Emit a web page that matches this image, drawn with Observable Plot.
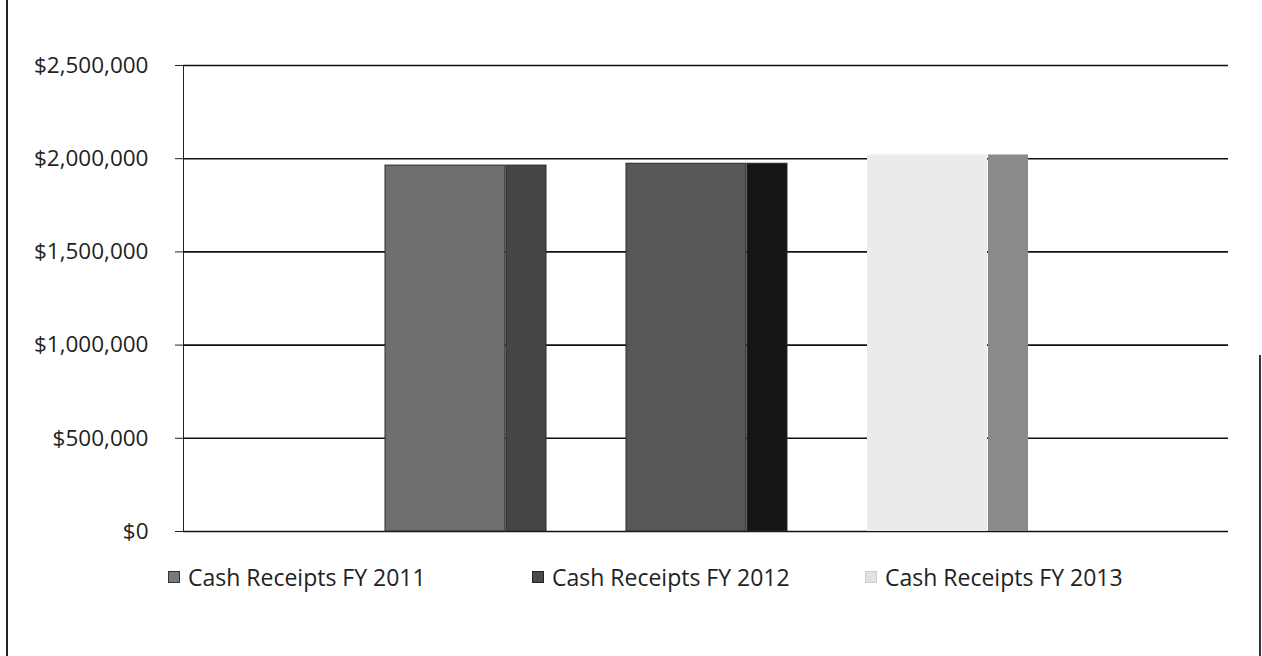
<!DOCTYPE html>
<html>
<head>
<meta charset="utf-8">
<script src="https://cdn.jsdelivr.net/npm/d3@7"></script>
<script src="https://cdn.jsdelivr.net/npm/@observablehq/plot@0.6"></script>
<style>
  html, body { margin: 0; padding: 0; background: #fff; }
  body { width: 1262px; height: 656px; position: relative; overflow: hidden; font-family: "Open Sans", sans-serif; }
  #chart { position: absolute; left: 0; top: 0; }
  .edge-left { position: absolute; left: 6px; top: 0; width: 0; height: 656px; border-left: 2px solid #222; }
  .edge-right { position: absolute; left: 1259px; top: 355px; width: 0; height: 301px; border-left: 2px solid #333; }
  #legend { position: absolute; left: 0; top: 562px; width: 1262px; height: 30px; }
  .item { position: absolute; top: 0; display: flex; align-items: center; font-size: 23px; color: #222; line-height: 30px; white-space: nowrap; }
  .sw { width: 12px; height: 12px; margin-right: 8px; box-sizing: border-box; }
</style>
</head>
<body>
<div id="chart"></div>
<div id="legend"></div>
<div class="edge-left"></div>
<div class="edge-right"></div>
<script>
const years = ["FY 2011", "FY 2012", "FY 2013"];
const seriesLabels = ["Cash Receipts FY 2011", "Cash Receipts FY 2012", "Cash Receipts FY 2013"];
const receipts = [1963000, 1973000, 2020000];
const yTicks = [0, 500000, 1000000, 1500000, 2000000, 2500000];

// styles
const frontFill = ["#6f6f6f", "#575757", "#ebebeb"];
const sideFill = ["#454545", "#151515", "#8a8a8a"];
const outline = ["#2a2a2a", "#2a2a2a", "none"];
const swatchFill = ["#7a7a7a", "#4a4a4a", "#e2e2e2"];
const swatchStroke = ["#333", "#222", "#ccc"];
const legendLeft = [168, 532, 865];

const data = years.map((year, i) => ({year, label: seriesLabels[i], value: receipts[i], i}));

const chart = Plot.plot({
  width: 1262,
  height: 545,
  marginLeft: 183,
  marginRight: 34,
  marginTop: 65,
  marginBottom: 14,
  style: {fontFamily: "Open Sans, sans-serif", fontSize: "22.5px", color: "#222", background: "transparent"},
  x: {type: "band", domain: years, range: [384, 1030], paddingInner: 0.33, paddingOuter: 0, axis: null},
  y: {domain: [0, 2500000], ticks: yTicks, tickFormat: d3.format("$,"), tickSize: 8, tickPadding: 27, line: true, label: null},
  marks: [
    Plot.ruleY(yTicks, {stroke: "#111", strokeWidth: 1.6}),
    Plot.barY(data, {x: "year", y: "value", insetRight: 41, fill: d => frontFill[d.i], stroke: d => outline[d.i], strokeWidth: 1}),
    Plot.barY(data, {x: "year", y: "value", insetLeft: 121, fill: d => sideFill[d.i], stroke: d => outline[d.i], strokeWidth: 1})
  ]
});
document.getElementById("chart").appendChild(chart);

const legend = document.getElementById("legend");
data.forEach(d => {
  const item = document.createElement("div");
  item.className = "item";
  item.style.left = legendLeft[d.i] + "px";
  const sw = document.createElement("span");
  sw.className = "sw";
  sw.style.background = swatchFill[d.i];
  sw.style.border = "1px solid " + swatchStroke[d.i];
  const t = document.createElement("span");
  t.textContent = d.label;
  item.appendChild(sw);
  item.appendChild(t);
  legend.appendChild(item);
});
</script>
</body>
</html>
